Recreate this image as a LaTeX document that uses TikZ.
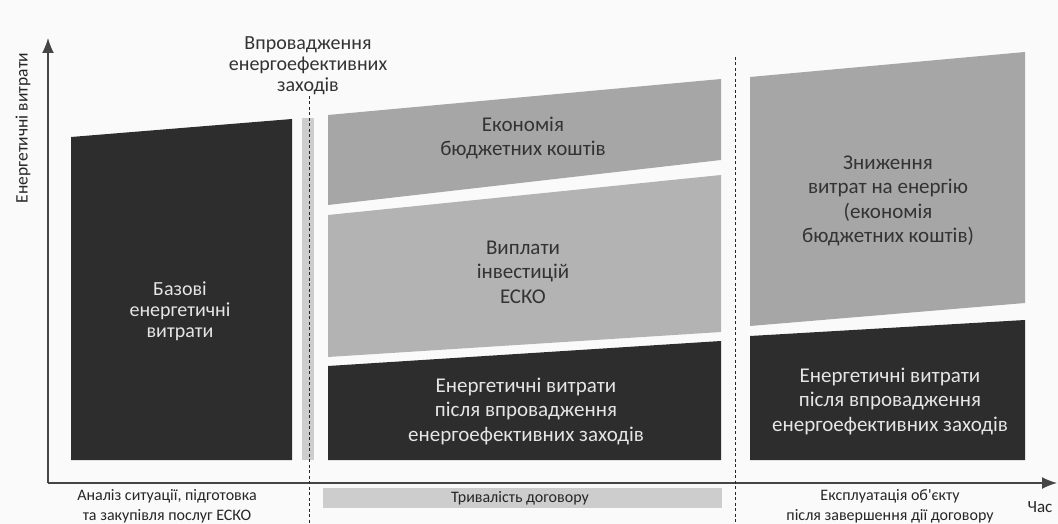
\documentclass[tikz,border=0pt]{standalone}
\usepackage{fontspec}
\setmainfont{Carlito}[Ligatures=TeXOff]
\usetikzlibrary{arrows.meta}

\definecolor{darkbox}{HTML}{2D2D2D}
\definecolor{midbox}{HTML}{A6A6A6}
\definecolor{lightbox}{HTML}{B3B3B3}
\definecolor{barfill}{HTML}{CDCDCD}
\definecolor{axiscol}{HTML}{454545}
\definecolor{pagebg}{HTML}{FAFAFA}

\tikzset{
  onDark/.style={text=white!90!black, align=center, font=\fontsize{21}{24.5}\selectfont},
  onGrey/.style={text=black!80, align=center, font=\fontsize{21}{24.5}\selectfont},
  smallLabel/.style={text=black!85, align=center, font=\fontsize{16}{20}\selectfont},
  axisLine/.style={axiscol, line width=1.5pt, -{Latex[length=15pt,width=12pt]}},
  phaseLine/.style={black!85, line width=0.8pt, dash pattern=on 3pt off 2.5pt}
}

\begin{document}
\begin{tikzpicture}[x=1pt,y=-1pt]
\fill[pagebg] (0,0) rectangle (1058,524);
\useasboundingbox (0,0) rectangle (1058,524);

\fill[darkbox] (71,137) -- (292,119) -- (292,460) -- (71,460) -- cycle;
\fill[barfill] (302,118) rectangle (314,460);
\fill[midbox] (328,115) -- (721,79) -- (721,160) -- (328,205) -- cycle;
\fill[lightbox] (328,215) -- (721,175) -- (721,332) -- (328,357) -- cycle;
\fill[darkbox] (328,366) -- (721,341) -- (721,460) -- (328,460) -- cycle;
\fill[midbox] (750,77) -- (1025,52) -- (1025,303) -- (750,326) -- cycle;
\fill[darkbox] (750,336) -- (1025,320) -- (1025,460) -- (750,460) -- cycle;
\fill[barfill] (323,488) rectangle (722,508);

\coordinate (origin) at (48,483);
\coordinate (ytip) at (48,38);
\coordinate (xtip) at (1057,483);
\draw[axisLine] (origin) -- (ytip);
\draw[axisLine] (origin) -- (xtip);

\coordinate (start1) at (309,96);
\coordinate (end1) at (309,524);
\coordinate (start2) at (735,57);
\coordinate (end2) at (735,524);
\draw[phaseLine] (start1) -- (end1);
\draw[phaseLine] (start2) -- (end2);

\node[onGrey, font=\fontsize{20}{21}\selectfont] (impl) at (308,66) {Впровадження\\енергоефективних\\заходів};
\node[smallLabel, rotate=90, font=\fontsize{17.5}{18}\selectfont] (ylabel) at (23,128) {Енергетичні витрати};

\node[onDark, font=\fontsize{20}{21}\selectfont] (base) at (180,311) {Базові\\енергетичні\\витрати};
\node[onGrey] (saving) at (523,138) {Економія\\бюджетних коштів};
\node[onGrey] (payback) at (523,272) {Виплати\\інвестицій\\ЕСКО};
\node[onDark] (after1) at (526,411) {Енергетичні витрати\\після впровадження\\енергоефективних заходів};
\node[onGrey] (reduce) at (888,201) {Зниження\\витрат на енергію\\(економія\\бюджетних коштів)};
\node[onDark] (after2) at (890,401) {Енергетичні витрати\\після впровадження\\енергоефективних заходів};

\node[smallLabel] (prep) at (167,506) {Аналіз ситуації, підготовка\\та закупівля послуг ЕСКО};
\node[smallLabel] (term) at (520,498) {Тривалість договору};
\node[smallLabel] (use) at (890,506) {Експлуатація об'єкту\\після завершення дії договору};
\node[smallLabel, font=\fontsize{17}{18}\selectfont] (time) at (1040,507) {Час};
\end{tikzpicture}
\end{document}
